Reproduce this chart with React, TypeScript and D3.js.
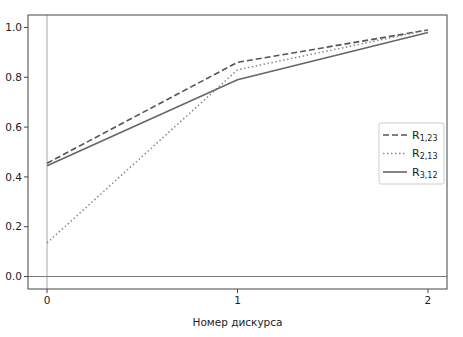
import React from 'react';
import * as d3 from 'd3';

const discourses = [0, 1, 2];
const r123 = [0.455, 0.86, 0.99];
const r213 = [0.135, 0.83, 0.99];
const r312 = [0.445, 0.79, 0.98];
const yTicks = [0.0, 0.2, 0.4, 0.6, 0.8, 1.0];

const series = [
  { name: 'R', sub: '1,23', values: r123, dash: '6,3', color: '#555', width: 1.6 },
  { name: 'R', sub: '2,13', values: r213, dash: '1.5,2.5', color: '#888', width: 1.5 },
  { name: 'R', sub: '3,12', values: r312, dash: null, color: '#666', width: 1.6 },
];

const W = 463;
const H = 337;
const margin = { top: 15, right: 16, bottom: 48, left: 28 };

export default function App() {
  const x = d3.scaleLinear().domain([-0.1, 2.1]).range([margin.left, W - margin.right]);
  const y = d3.scaleLinear().domain([-0.05, 1.05]).range([H - margin.bottom, margin.top]);

  const line = d3.line<number>()
    .x((_, i) => x(discourses[i]))
    .y(d => y(d));

  const font = 'DejaVu Sans, sans-serif';

  return (
    <svg width={W} height={H} style={{ position: 'absolute', left: 0, top: 0, background: '#fff' }}>
      {/* reference lines through zero */}
      <line x1={x(0)} x2={x(0)} y1={margin.top} y2={H - margin.bottom} stroke="#aaa" strokeWidth={1} />
      <line x1={margin.left} x2={W - margin.right} y1={y(0)} y2={y(0)} stroke="#777" strokeWidth={1} />

      {series.map(s => (
        <path key={s.sub} d={line(s.values) || ''} fill="none" stroke={s.color}
          strokeWidth={s.width} strokeDasharray={s.dash || undefined} />
      ))}

      {/* frame */}
      <rect x={margin.left} y={margin.top} width={W - margin.left - margin.right}
        height={H - margin.top - margin.bottom} fill="none" stroke="#444" strokeWidth={1} />

      {/* y axis */}
      {yTicks.map(t => (
        <g key={t} transform={`translate(${margin.left},${y(t)})`}>
          <line x1={-4} x2={0} stroke="#444" />
          <text x={-6} dy="0.35em" textAnchor="end" fontSize={10.5} fontFamily={font} fill="#222">
            {t.toFixed(1)}
          </text>
        </g>
      ))}

      {/* x axis */}
      {discourses.map(t => (
        <g key={t} transform={`translate(${x(t)},${H - margin.bottom})`}>
          <line y1={0} y2={4} stroke="#444" />
          <text y={15} textAnchor="middle" fontSize={10.5} fontFamily={font} fill="#222">{t}</text>
        </g>
      ))}
      <text x={(margin.left + W - margin.right) / 2} y={326} textAnchor="middle" fontSize={10.5}
        fontFamily={font} fill="#222">Номер дискурса</text>

      {/* legend */}
      <g transform="translate(379,123)">
        <rect x={0} y={0} width={65} height={61} fill="#fff" stroke="#ccc" rx={2} />
        {series.map((s, i) => (
          <g key={s.sub} transform={`translate(4,${12 + i * 18.5})`}>
            <line x1={0} x2={24} y1={0} y2={0} stroke={s.color} strokeWidth={s.width}
              strokeDasharray={s.dash || undefined} />
            <text x={29} dy="0.35em" fontSize={11} fontFamily={font} fill="#222">
              {s.name}
              <tspan fontSize={8} dy="2">{s.sub}</tspan>
            </text>
          </g>
        ))}
      </g>
    </svg>
  );
}
